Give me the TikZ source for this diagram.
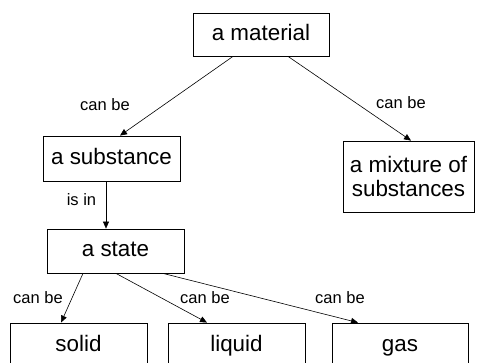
\documentclass[tikz,border=0pt]{standalone}
\usepackage{fontspec}
\setmainfont{Liberation Sans}
\usetikzlibrary{arrows.meta}

\tikzset{
  concept/.style={draw, line width=0.8pt, rectangle, inner sep=2pt,
    font=\fontsize{22.4}{24}\selectfont, text height=16pt, text depth=4.7pt,
    align=center},
  link/.style={line width=0.6pt, -{Triangle[length=7pt,width=6pt]}},
  linklabel/.style={inner sep=0pt, font=\fontsize{16.5}{18}\selectfont}
}

\begin{document}
\begin{tikzpicture}[x=1pt,y=-1pt]
  \useasboundingbox (0,0) rectangle (477,362);
  \clip (0,0) rectangle (477,362);

  % concept boxes
  \node[concept, minimum width=136pt, minimum height=43pt] (mat) at (261,34.5) {a material};
  \node[concept, minimum width=137pt, minimum height=45pt] (sub) at (111.5,158.5) {a substance};
  \node[concept, minimum width=131pt, minimum height=71pt, text height=, text depth=] (mix) at (408.5,176.5) {a mixture of\\substances};
  \node[concept, minimum width=137pt, minimum height=44pt] (sta) at (115.5,251) {a state};
  \node[concept, minimum width=137pt, minimum height=45pt] (sol) at (78.5,345.5) {solid};
  \node[concept, minimum width=137pt, minimum height=45pt] (liq) at (236.5,345.5) {liquid};
  \node[concept, minimum width=136pt, minimum height=45pt] (gas) at (400,345.5) {gas};

  % connectors
  \draw[link] ([xshift=-28pt]mat.south) -- ([xshift=8.5pt]sub.north);
  \draw[link] ([xshift=27pt]mat.south) -- ([xshift=2.5pt]mix.north);
  \draw[link] ([xshift=-5.5pt]sub.south) -- ([xshift=-9.5pt]sta.north);
  \draw[link] ([xshift=-32.5pt]sta.south) -- ([xshift=-17.5pt]sol.north);
  \draw[link] ([xshift=0.5pt]sta.south) -- ([xshift=-29.5pt]liq.north);
  \draw[link] ([xshift=47.5pt]sta.south) -- ([xshift=-42pt]gas.north);

  % connector labels
  \node[linklabel] (l1) at (105,105) {can be};
  \node[linklabel] (l2) at (401,103) {can be};
  \node[linklabel] (l3) at (81.5,199.5) {is in};
  \node[linklabel] (l4) at (38,297.5) {can be};
  \node[linklabel] (l5) at (205,297.5) {can be};
  \node[linklabel] (l6) at (340,297.5) {can be};
\end{tikzpicture}
\end{document}
